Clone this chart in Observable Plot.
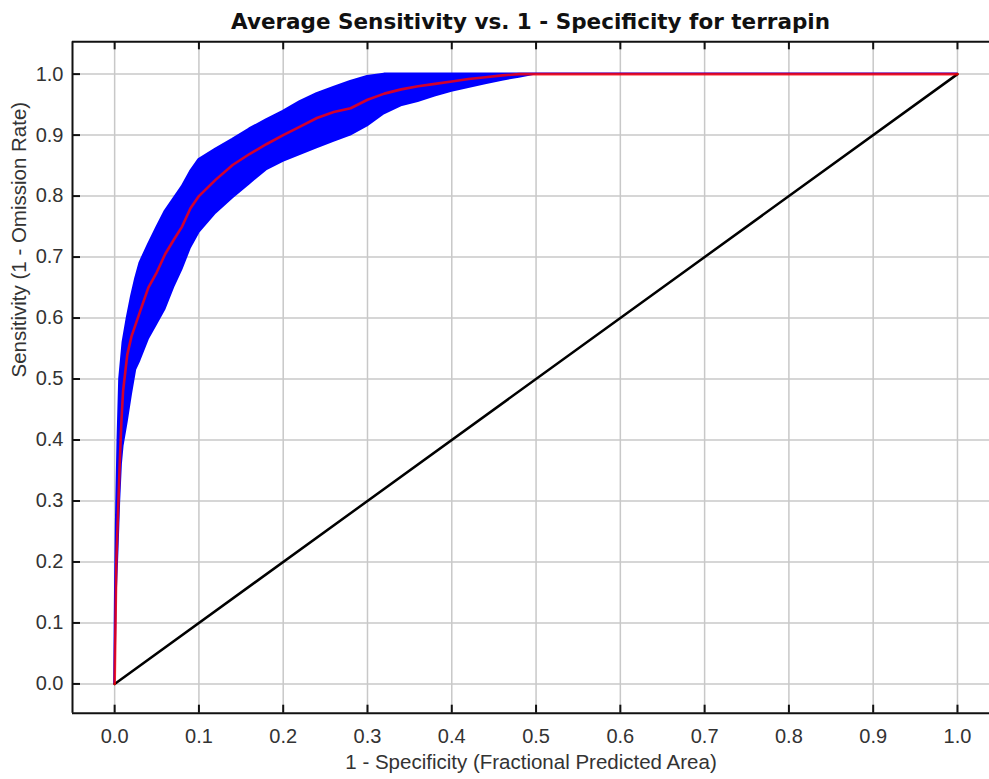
<!DOCTYPE html>
<html><head><meta charset="utf-8">
<script src="https://cdn.jsdelivr.net/npm/d3@7"></script>
<script src="https://cdn.jsdelivr.net/npm/@observablehq/plot@0.6"></script>
<style>
body{margin:0;background:#fff;}
#title{font:bold 21.5px "DejaVu Sans",Verdana,sans-serif;height:40px;line-height:44px;padding-left:72px;text-align:center;color:#111;white-space:nowrap;overflow:hidden;}
</style></head><body>
<div id="title"></div>
<div id="chart"></div>
<script>
const titleText = "Average Sensitivity vs. 1 - Specificity for terrapin";
const xLabel = "1 - Specificity (Fractional Predicted Area)";
const yLabel = "Sensitivity (1 - Omission Rate)";

const fpr       = [0, 0.001, 0.002, 0.004, 0.006, 0.008, 0.010, 0.015, 0.020, 0.025, 0.030, 0.040, 0.050, 0.060, 0.070, 0.080, 0.090, 0.100, 0.120, 0.140, 0.160, 0.180, 0.200, 0.220, 0.240, 0.260, 0.280, 0.300, 0.320, 0.340, 0.360, 0.380, 0.400, 0.420, 0.440, 0.460, 0.480, 0.500, 1.0];
const sensMean  = [0, 0.10, 0.20, 0.28, 0.36, 0.43, 0.48, 0.54, 0.57, 0.59, 0.61, 0.65, 0.675, 0.705, 0.728, 0.75, 0.78, 0.80, 0.827, 0.851, 0.869, 0.885, 0.900, 0.914, 0.928, 0.938, 0.944, 0.958, 0.968, 0.975, 0.980, 0.984, 0.988, 0.992, 0.995, 0.998, 1.0, 1.0, 1.0];
const sensLower = [0, 0.06, 0.15, 0.22, 0.30, 0.36, 0.39, 0.43, 0.475, 0.515, 0.53, 0.565, 0.59, 0.615, 0.65, 0.68, 0.715, 0.74, 0.772, 0.797, 0.82, 0.843, 0.857, 0.868, 0.879, 0.89, 0.90, 0.915, 0.935, 0.948, 0.955, 0.964, 0.972, 0.978, 0.984, 0.99, 0.995, 1.0, 1.0];
const sensUpper = [0, 0.15, 0.26, 0.40, 0.50, 0.53, 0.56, 0.60, 0.635, 0.665, 0.69, 0.72, 0.748, 0.775, 0.795, 0.815, 0.84, 0.86, 0.877, 0.893, 0.91, 0.925, 0.939, 0.955, 0.968, 0.978, 0.988, 0.996, 1.0, 1.0, 1.0, 1.0, 1.0, 1.0, 1.0, 1.0, 1.0, 1.0, 1.0];
const diagX = [0, 1];
const diagY = [0, 1];
const xTicks = [0, 0.1, 0.2, 0.3, 0.4, 0.5, 0.6, 0.7, 0.8, 0.9, 1.0];
const yTicks = [0, 0.1, 0.2, 0.3, 0.4, 0.5, 0.6, 0.7, 0.8, 0.9, 1.0];

document.getElementById("title").textContent = titleText;

const rows = fpr.map((x, i) => ({x, mean: sensMean[i], lo: sensLower[i], hi: sensUpper[i]}));
const diag = diagX.map((x, i) => ({x, y: diagY[i]}));

const W = 989, H = 739, mT = 1.3, mB = 66.3, mL = 72, mR = 0;
const xDomain = [-0.05, 1.038], yDomain = [-0.048, 1.053];
const innerW = W - mL - mR, innerH = H - mT - mB;
const tx = 8 * (xDomain[1] - xDomain[0]) / innerW;
const ty = 8 * (yDomain[1] - yDomain[0]) / innerH;
const fmt = d => d.toFixed(1);
const grid = {stroke: "#c8c8c8", strokeWidth: 1.5, strokeOpacity: 1};
const axisInk = {stroke: "#111", strokeWidth: 2};

const chart = Plot.plot({
  width: W, height: H,
  marginTop: mT, marginBottom: mB, marginLeft: mL, marginRight: mR,
  x: {domain: xDomain, axis: null},
  y: {domain: yDomain, axis: null},
  style: {fontFamily: "'Liberation Sans', Arial, sans-serif", background: "#fff", overflow: "visible"},
  marks: [
    Plot.ruleX(xTicks, grid),
    Plot.ruleY(yTicks, grid),
    Plot.areaY(rows, {x: "x", y1: "lo", y2: "hi", fill: "#0000ff", stroke: "#0000ff", strokeWidth: 2, strokeLinejoin: "round"}),
    Plot.line(diag, {x: "x", y: "y", stroke: "#000", strokeWidth: 2.5}),
    Plot.line(rows, {x: "x", y: "mean", stroke: "#ff0000", strokeOpacity: 0.82, strokeWidth: 2.6}),
    Plot.ruleX([xDomain[0]], axisInk),
    Plot.ruleY([yDomain[0]], axisInk),
    Plot.ruleY([yDomain[1]], axisInk),
    Plot.ruleX(xTicks, {x: d => d, y1: yDomain[0], y2: yDomain[0] + ty, ...axisInk}),
    Plot.ruleX(xTicks, {x: d => d, y1: yDomain[1] - ty, y2: yDomain[1], ...axisInk}),
    Plot.ruleY(yTicks, {y: d => d, x1: xDomain[0], x2: xDomain[0] + tx, ...axisInk}),
    Plot.text(xTicks, {x: d => d, frameAnchor: "bottom", dy: 30, text: fmt, fontSize: 20, fill: "#333"}),
    Plot.text(yTicks, {y: d => d, frameAnchor: "left", dx: -9, textAnchor: "end", text: fmt, fontSize: 20, fill: "#333"}),
    Plot.text([xLabel], {frameAnchor: "bottom", dy: 56, text: d => d, fontSize: 20.5, fill: "#333"}),
    Plot.text([yLabel], {frameAnchor: "left", dx: -53, rotate: -90, text: d => d, fontSize: 20.5, fill: "#333"})
  ]
});
document.getElementById("chart").appendChild(chart);
</script>
</body></html>
